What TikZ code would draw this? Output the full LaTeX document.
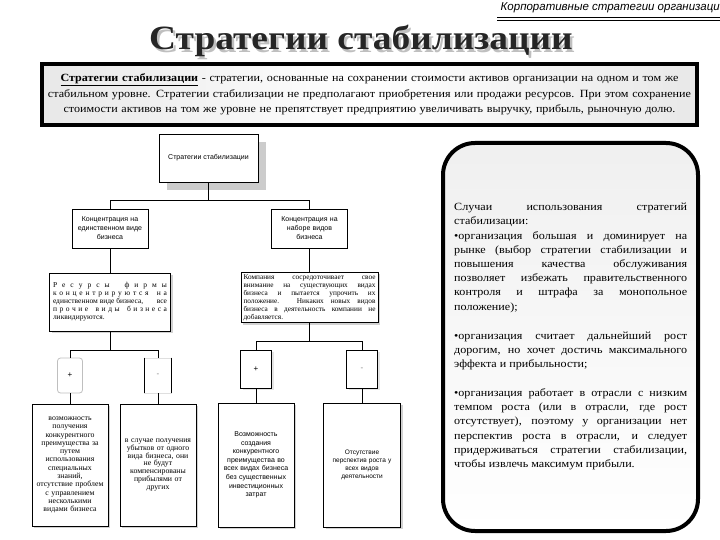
\documentclass[tikz,border=0pt]{standalone}
\usepackage{fontspec}
\setmainfont{Liberation Serif}
\setsansfont{Liberation Sans}
\newfontfamily\titlefont[FakeStretch=1.1]{Liberation Serif}
\newfontfamily\bodyfont[FakeStretch=1.1]{Liberation Serif}
\usetikzlibrary{shadows}
\begin{document}
\begin{tikzpicture}[x=1pt,y=-1pt,
  fbox/.style={draw, line width=0.8pt, fill=white, inner sep=2pt, align=center},
  lshadow/.style={drop shadow={shadow xshift=2pt, shadow yshift=-2pt, fill=gray!35, opacity=1}},
  conn/.style={line width=0.8pt},
  smallsans/.style={font=\sffamily\fontsize{7}{9}\selectfont},
  pm/.style={font=\sffamily\fontsize{8}{9}\selectfont, inner sep=0, minimum width=#1}
]
\useasboundingbox (0,0) rectangle (720,540);

% header
\node[anchor=base east, font=\sffamily\itshape\fontsize{11.5}{13}\selectfont, inner sep=0] (hdr) at (720,11) {Корпоративные стратегии организаци};
\draw[line width=1.2pt] (497,17.5) -- (720,17.5);
\draw[line width=0.7pt] (497,20.8) -- (720,20.8);

% title with shadow
\node[anchor=base, inner sep=0, font=\titlefont\bfseries\fontsize{34}{40}\selectfont] (title) at (361,50)
 {\rlap{\kern2.5pt\raisebox{-2.5pt}{\color{gray!50}Стратегии стабилизации}}\textcolor{black!85}{Стратегии стабилизации}};

% definition
\node[draw, line width=3.5pt, left color=gray!18, right color=gray!18, middle color=white,
      minimum width=655, minimum height=61, text width=650, align=center, inner sep=0,
      font=\bodyfont\fontsize{11}{15.5}\selectfont] (defbox) at (369.5,94.5)
 {\underline{\textbf{Стратегии стабилизации}} - стратегии, основанные на сохранении стоимости активов организации на одном и том же\\
  стабильном уровне. Стратегии стабилизации не предполагают приобретения или продажи ресурсов. При этом сохранение\\
  стоимости активов на том же уровне не препятствует предприятию увеличивать выручку, прибыль, рыночную долю.};

% right rounded box
\node[draw, line width=4pt, rounded corners=32pt, minimum width=255, minimum height=388,
      top color=gray!12, bottom color=white] (casebox) at (570.5,337) {};
\node[anchor=north west, text width=233, align=justify, inner sep=0,
      font=\bodyfont\fontsize{11}{14.2}\selectfont] (casetext) at (454,203)
 {Случаи использования стратегий\linebreak
  стабилизации:\linebreak
  •организация большая и доминирует на\linebreak
  рынке (выбор стратегии стабилизации и\linebreak
  повышения качества обслуживания\linebreak
  позволяет избежать правительственного\linebreak
  контроля и штрафа за монопольное\linebreak
  положение);\par\vspace{14.8pt}
  •организация считает дальнейший рост\linebreak
  дорогим, но хочет достичь максимального\linebreak
  эффекта и прибыльности;\par\vspace{14.8pt}
  •организация работает в отрасли с низким\linebreak
  темпом роста (или в отрасли, где рост\linebreak
  отсутствует), поэтому у организации нет\linebreak
  перспектив роста в отрасли, и следует\linebreak
  придерживаться стратегии стабилизации,\linebreak
  чтобы извлечь максимум прибыли.};

% flowchart
\node[fbox, smallsans, minimum width=99, minimum height=48,
      drop shadow={shadow xshift=8pt, shadow yshift=-8pt, fill=gray!40, opacity=1}] (top) at (208.5,158) {Стратегии стабилизации};
\node[fbox, smallsans, minimum width=76, minimum height=39, text width=70] (c1) at (110,228.5) {Концентрация на\\ единственном виде\\ бизнеса};
\node[fbox, smallsans, minimum width=76, minimum height=39, text width=70] (c2) at (309.5,228.5) {Концентрация на\\ наборе видов\\ бизнеса};

\node[fbox, lshadow, minimum width=121, minimum height=58, text width=114, align=justify, font=\rmfamily\fontsize{7.5}{8}\selectfont] (r1) at (110,302)
 {\hbox to \linewidth{Р\hfill е\hfill с\hfill у\hfill р\hfill с\hfill ы\hfill\hfill\hfill ф\hfill и\hfill р\hfill м\hfill ы}
  \hbox to \linewidth{к\hfill о\hfill н\hfill ц\hfill е\hfill н\hfill т\hfill р\hfill и\hfill р\hfill у\hfill ю\hfill т\hfill с\hfill я\hfill\hfill\hfill н\hfill а}
  \hbox to \linewidth{единственном виде бизнеса,\hfill все}
  \hbox to \linewidth{п\hfill р\hfill о\hfill ч\hfill и\hfill е\hfill\hfill\hfill в\hfill и\hfill д\hfill ы\hfill\hfill\hfill б\hfill и\hfill з\hfill н\hfill е\hfill с\hfill а}
  \hbox to \linewidth{ликвидируются.\hfill}};

\node[fbox, lshadow, minimum width=137, minimum height=49, text width=132, align=justify, font=\rmfamily\fontsize{7.3}{8}\selectfont] (r2) at (309.5,297.5)
 {Компания сосредоточивает свое\linebreak
  внимание на существующих видах\linebreak
  бизнеса и пытается упрочить их\linebreak
  положение. Никаких новых видов\linebreak
  бизнеса в деятельность компании не\linebreak
  добавляется.};

\node[draw=gray!50, line width=0.8pt, rounded corners=3pt, pm=25, minimum height=35] (p1) at (70,375.5) {+};
\node[draw=gray!25, line width=0.6pt, pm=27, minimum height=35, text=gray] (m1) at (158,375.5) {-};
\draw[conn] (m1.north west) -- (m1.south west);
\draw[conn] (m1.north east) -- (m1.south east);
\node[fbox, drop shadow={shadow xshift=2pt, shadow yshift=-2pt, fill=gray!20, opacity=1}, pm=31, minimum height=38] (p2) at (256,369) {+};
\node[fbox, drop shadow={shadow xshift=2pt, shadow yshift=-2pt, fill=gray!20, opacity=1}, pm=31, minimum height=38, text=gray] (m2) at (362,369) {-};

\node[fbox, lshadow, minimum width=76, minimum height=122, text width=72, font=\rmfamily\fontsize{7.8}{8.3}\selectfont] (b1) at (70,465)
 {возможность\\ получения\\ конкурентного\\ преимущества за\\ путем\\ использования\\ специальных\\ знаний,\\ отсутствие проблем\\ с управлением\\ несколькими\\ видами бизнеса};
\node[fbox, lshadow, minimum width=76, minimum height=122, text width=72, font=\rmfamily\fontsize{7.8}{7.7}\selectfont] (b2) at (158,465)
 {в случае получения\\ убытков от одного\\ вида бизнеса, они\\ не будут\\ компенсированы\\ прибылями от\\ других};
\node[fbox, lshadow, minimum width=76, minimum height=124, text width=72, font=\sffamily\fontsize{7}{8.6}\selectfont] (b3) at (256,465)
 {Возможность\\ создания\\ конкурентного\\ преимущества во\\ всех видах бизнеса\\ без существенных\\ инвестиционных\\ затрат};
\node[fbox, lshadow, minimum width=77, minimum height=124, text width=72, font=\sffamily\fontsize{6.5}{8}\selectfont] (b4) at (362,465)
 {Отсутствие\\ перспектив роста у\\ всех видов\\ деятельности};

% connectors
\draw[conn] (top.south) -- ++(0,18) -| (c1.north);
\draw[conn] (top.south) -- ++(0,18) -| (c2.north);
\draw[conn] (c1.south) -- (r1.north);
\draw[conn] (c2.south) -- (r2.north);
\draw[conn] (r1.south) -- ++(0,19) -| (p1.north);
\draw[conn] (r1.south) -- ++(0,19) -| (m1.north);
\draw[conn] (r2.south) -- ++(0,18) -| (p2.north);
\draw[conn] (r2.south) -- ++(0,18) -| (m2.north);
\draw[conn] (p1.south) -- (b1.north);
\draw[conn] (m1.south) -- (b2.north);
\draw[conn] (p2.south) -- (b3.north);
\draw[conn] (m2.south) -- (b4.north);
\end{tikzpicture}
\end{document}
